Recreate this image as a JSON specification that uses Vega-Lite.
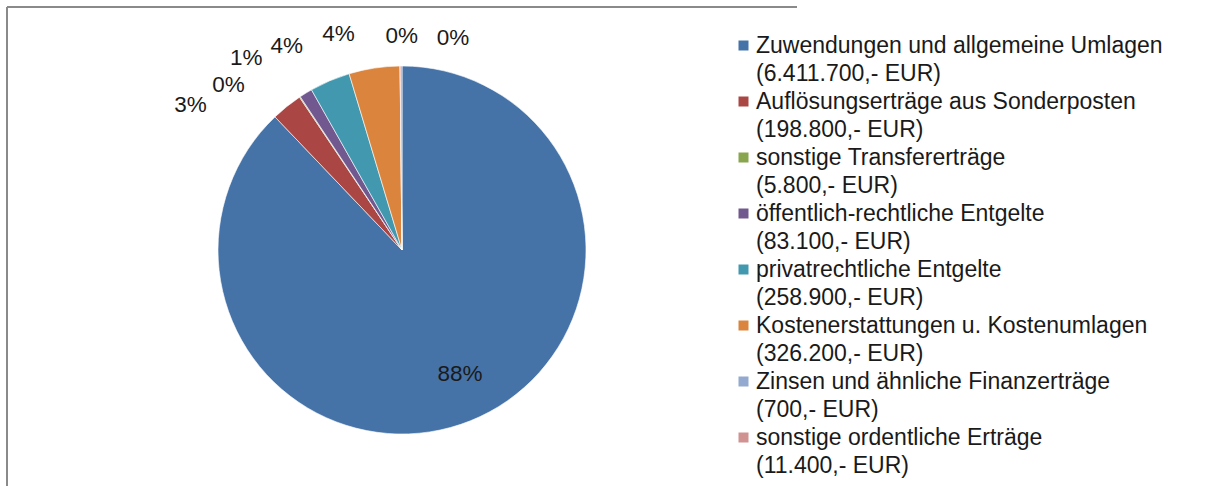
{
  "$schema": "https://vega.github.io/schema/vega-lite/v6.json",
  "width": 790,
  "height": 486,
  "padding": {"left": 7, "top": 7, "right": 10, "bottom": 0},
  "background": "#ffffff",
  "view": {"stroke": "#8a8a8a", "strokeWidth": 2, "strokeDash": [790, 1276, 486, 0]},
  "config": {
    "view": {"stroke": "#8a8a8a", "strokeWidth": 2, "strokeDash": [790, 1276, 486, 0]},
    "font": "Liberation Sans",
    "style": {"guide-label": {"lineHeight": 28}}
  },
  "data": {
    "values": [
      {"idx": 1, "cat": "Zuwendungen und allgemeine Umlagen (6.411.700,- EUR)", "value": 6411700, "label": "88%"},
      {"idx": 2, "cat": "Auflösungserträge aus Sonderposten (198.800,- EUR)", "value": 198800, "label": "3%"},
      {"idx": 3, "cat": "sonstige Transfererträge (5.800,- EUR)", "value": 5800, "label": "0%"},
      {"idx": 4, "cat": "öffentlich-rechtliche Entgelte (83.100,- EUR)", "value": 83100, "label": "1%"},
      {"idx": 5, "cat": "privatrechtliche Entgelte (258.900,- EUR)", "value": 258900, "label": "4%"},
      {"idx": 6, "cat": "Kostenerstattungen u. Kostenumlagen (326.200,- EUR)", "value": 326200, "label": "4%"},
      {"idx": 7, "cat": "Zinsen und ähnliche Finanzerträge (700,- EUR)", "value": 700, "label": "0%"},
      {"idx": 8, "cat": "sonstige ordentliche Erträge (11.400,- EUR)", "value": 11400, "label": "0%"}
    ]
  },
  "encoding": {
    "theta": {"field": "value", "type": "quantitative", "stack": true},
    "order": {"field": "idx", "type": "quantitative"},
    "color": {
      "field": "cat",
      "type": "nominal",
      "sort": null,
      "scale": {
        "domain": [
          "Zuwendungen und allgemeine Umlagen (6.411.700,- EUR)",
          "Auflösungserträge aus Sonderposten (198.800,- EUR)",
          "sonstige Transfererträge (5.800,- EUR)",
          "öffentlich-rechtliche Entgelte (83.100,- EUR)",
          "privatrechtliche Entgelte (258.900,- EUR)",
          "Kostenerstattungen u. Kostenumlagen (326.200,- EUR)",
          "Zinsen und ähnliche Finanzerträge (700,- EUR)",
          "sonstige ordentliche Erträge (11.400,- EUR)"
        ],
        "range": ["#4572A7", "#AA4643", "#89A54E", "#71588F", "#4198AF", "#DB843D", "#93A9CF", "#D19392"]
      },
      "legend": {
        "title": null,
        "orient": "none",
        "legendX": 725,
        "legendY": 27,
        "padding": 0,
        "symbolType": "square",
        "symbolSize": 100,
        "symbolStrokeWidth": 0,
        "labelFont": "Liberation Sans",
        "labelFontSize": 23,
        "labelColor": "#1a1a1a",
        "labelOffset": 1,
        "labelLimit": 600,
        "rowPadding": 4,
        "labelExpr": "[slice(datum.label, 0, indexof(datum.label, ' (')), slice(datum.label, indexof(datum.label, ' (') + 1)]"
      }
    }
  },
  "layer": [
    {"mark": {"type": "arc", "outerRadius": 184, "stroke": "#ffffff", "strokeWidth": 0.6}},
    {"mark": {"type": "point", "opacity": 0, "size": 0, "strokeWidth": 0},
     "encoding": {"x": {"datum": 0, "type": "quantitative", "axis": null}, "theta": null, "order": null, "color": null}},
    {"mark": {"type": "text", "radius": 137, "dx": 7, "dy": -3, "fontSize": 22.5},
     "encoding": {"color": {"value": "#1a1a1a"}, "text": {"condition": {"test": "datum.idx == 1", "field": "label"}, "value": ""}}},
    {"mark": {"type": "text", "radius": 210, "dx": -80, "dy": 19, "fontSize": 22.5},
     "encoding": {"color": {"value": "#1a1a1a"}, "text": {"condition": {"test": "datum.idx == 2", "field": "label"}, "value": ""}}},
    {"mark": {"type": "text", "radius": 210, "dx": -57, "dy": 10, "fontSize": 22.5},
     "encoding": {"color": {"value": "#1a1a1a"}, "text": {"condition": {"test": "datum.idx == 3", "field": "label"}, "value": ""}}},
    {"mark": {"type": "text", "radius": 210, "dx": -46, "dy": -13, "fontSize": 22.5},
     "encoding": {"color": {"value": "#1a1a1a"}, "text": {"condition": {"test": "datum.idx == 4", "field": "label"}, "value": ""}}},
    {"mark": {"type": "text", "radius": 210, "dx": -33, "dy": -11, "fontSize": 22.5},
     "encoding": {"color": {"value": "#1a1a1a"}, "text": {"condition": {"test": "datum.idx == 5", "field": "label"}, "value": ""}}},
    {"mark": {"type": "text", "radius": 210, "dx": -32, "dy": -8, "fontSize": 22.5},
     "encoding": {"color": {"value": "#1a1a1a"}, "text": {"condition": {"test": "datum.idx == 6", "field": "label"}, "value": ""}}},
    {"mark": {"type": "text", "radius": 210, "dx": 2, "dy": -4, "fontSize": 22.5},
     "encoding": {"color": {"value": "#1a1a1a"}, "text": {"condition": {"test": "datum.idx == 7", "field": "label"}, "value": ""}}},
    {"mark": {"type": "text", "radius": 210, "dx": 52, "dy": -2, "fontSize": 22.5},
     "encoding": {"color": {"value": "#1a1a1a"}, "text": {"condition": {"test": "datum.idx == 8", "field": "label"}, "value": ""}}}
  ]
}
